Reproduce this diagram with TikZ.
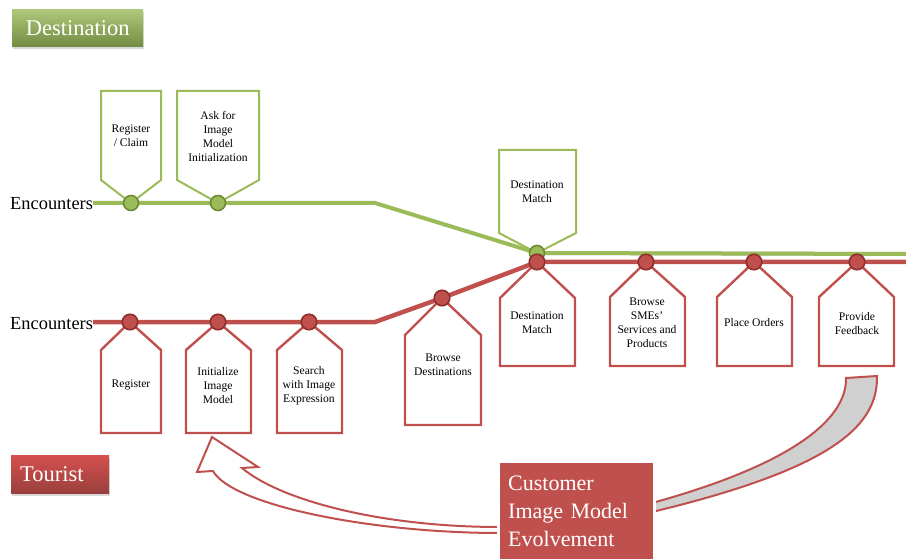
\documentclass[tikz,border=0pt]{standalone}
\usepackage{fontspec}
\setmainfont{Liberation Serif}
\usetikzlibrary{shadows}
\definecolor{gline}{HTML}{9BBB59}
\definecolor{gdark}{HTML}{6F8C35}
\definecolor{rline}{HTML}{C0504D}
\definecolor{rdark}{HTML}{8E302E}
\definecolor{bandgray}{HTML}{D0D0D0}
\pgfdeclarelayer{back}
\pgfdeclarelayer{mid}
\pgfsetlayers{back,mid,main}
\begin{document}
\begin{tikzpicture}[x=1pt,y=-1pt,
  gcall/.style={draw=gline, line width=2pt, fill=white, line join=miter},
  rcall/.style={draw=rline, line width=2.4pt, fill=white, line join=miter},
  tagtext/.style={font=\fontsize{11.6}{14}\selectfont, align=center, inner sep=0pt},
  gdot/.style={circle, fill=gline, draw=gdark, line width=1.6pt, minimum size=15pt, inner sep=0pt},
  rdot/.style={circle, fill=rline, draw=rdark, line width=1.6pt, minimum size=15.5pt, inner sep=0pt},
  lane/.style={line width=#1},
  laneshadow/.style={draw=black, opacity=.22, line width=4pt, shift={(0,2)}},
  encl/.style={anchor=base west, inner sep=0pt, font=\fontsize{18.4}{20}\selectfont},
  hdr/.style={anchor=north west, text=white, font=\fontsize{22.5}{26}\selectfont,
    drop shadow={shadow xshift=1pt, shadow yshift=-3pt, opacity=.3}},
  blockarrow/.style={draw=rline, line width=2pt, line join=miter}
]
\useasboundingbox (0,0) rectangle (906,559);

% headers
\node[hdr, top color=gline!80!white, bottom color=gline!75!black,
  minimum width=131pt, minimum height=37pt, inner sep=0pt] (dest) at (12,9) {Destination};
\node[hdr, top color=rline!75!red!90!white, bottom color=rline!80!black,
  minimum height=38pt, text width=80pt, inner xsep=9pt, inner ysep=0pt, align=left] (tour) at (11,455) {Tourist};

% encounter dots
\node[gdot] (g1) at (131,203) {};
\node[gdot] (g2) at (218,203) {};
\node[gdot] (g3) at (537,253) {};
\node[rdot] (r1) at (130,322) {};
\node[rdot] (r2) at (218,322) {};
\node[rdot] (r3) at (309,322) {};
\node[rdot] (r4) at (442,298) {};
\node[rdot] (r5) at (537,262) {};
\node[rdot] (r6) at (646,262) {};
\node[rdot] (r7) at (754,262) {};
\node[rdot] (r8) at (857,262) {};

\coordinate (gs) at (93,203);
\coordinate (gb) at (375,203);
\coordinate (ge) at (906,254);
\coordinate (rs) at (93,322);
\coordinate (rb) at (375,322);
\coordinate (re) at (906,262);

\node[encl] (enc1) at (10,210) {Encounters};
\node[encl] (enc2) at (10,329) {Encounters};

% timelines
\begin{pgfonlayer}{mid}
  \draw[laneshadow] (gs) -- (g1.center) -- (g2.center) -- (gb);
  \draw[laneshadow] (g3.center) -- (ge);
  \draw[laneshadow] (rs) -- (r1.center) -- (r2.center) -- (r3.center) -- (rb);
  \draw[laneshadow] (r5.center) -- (re);
  \draw[draw=gline, lane=4pt] (gs) -- (g1.center) -- (g2.center) -- (gb) -- (g3.center) -- (ge);
  \draw[draw=rline, lane=4.5pt] (rs) -- (r1.center) -- (r2.center) -- (r3.center) -- (rb)
    -- (r4.center) -- (r5.center) -- (r6.center) -- (r7.center) -- (r8.center) -- (re);
\end{pgfonlayer}

% tag outlines
\begin{pgfonlayer}{back}
  \draw[gcall] (101,91) -- (161,91) -- (161,180) -- (g1.center) -- (101,180) -- cycle;
  \draw[gcall] (177,91) -- (259,91) -- (259,180) -- (g2.center) -- (177,180) -- cycle;
  \draw[gcall] (499,150) -- (576,150) -- (576,233) -- (g3.center) -- (499,233) -- cycle;
  \draw[rcall] (101,433) -- (161,433) -- (161,350) -- (r1.center) -- (101,350) -- cycle;
  \draw[rcall] (186,433) -- (251,433) -- (251,350) -- (r2.center) -- (186,350) -- cycle;
  \draw[rcall] (277,433) -- (342,433) -- (342,350) -- (r3.center) -- (277,350) -- cycle;
  \draw[rcall] (405,425) -- (481,425) -- (481,335) -- (r4.center) -- (405,335) -- cycle;
  \draw[rcall] (500,366) -- (575,366) -- (575,298) -- (r5.center) -- (500,298) -- cycle;
  \draw[rcall] (610,366) -- (685,366) -- (685,297) -- (r6.center) -- (610,297) -- cycle;
  \draw[rcall] (717,366) -- (792,366) -- (792,297) -- (r7.center) -- (717,297) -- cycle;
  \draw[rcall] (819,366) -- (894,366) -- (894,297) -- (r8.center) -- (819,297) -- cycle;
\end{pgfonlayer}

% tag labels
\node[tagtext] (t1) at (131,136) {Register\\/ Claim};
\node[tagtext] (t2) at (218,136) {Ask for\\Image\\Model\\Initialization};
\node[tagtext] (t3) at (537,192) {Destination\\Match};
\node[tagtext] (t4) at (131,385) {Register};
\node[tagtext] (t5) at (218,386) {Initialize\\Image\\Model};
\node[tagtext] (t6) at (309,386) {Search\\with Image\\Expression};
\node[tagtext] (t7) at (443,365) {Browse\\Destinations};
\node[tagtext] (t8) at (537,323) {Destination\\Match};
\node[tagtext] (t9) at (647,323) {Browse\\SMEs’\\Services and\\Products};
\node[tagtext] (t10) at (754,323) {Place Orders};
\node[tagtext] (t11) at (857,324) {Provide\\Feedback};

% feedback loop arrows
\draw[blockarrow, fill=bandgray]
  (877,376) .. controls (878,425) and (835,468) .. (652,512)
  -- (652,503) .. controls (790,465) and (847,420) .. (846,378) -- cycle;
\draw[blockarrow, fill=white]
  (212,437) -- (258,467) -- (242,468)
  .. controls (280,500) and (380,527) .. (500,527)
  -- (500,533) .. controls (370,533) and (232,505) .. (213,471)
  -- (197,472) -- cycle;

% model evolution box
\fill[white, drop shadow={shadow xshift=0pt, shadow yshift=0pt, opacity=.15}] (497,460) rectangle (656,559);
\node[anchor=north west, fill=rline, text=white, minimum width=153pt, minimum height=96pt,
  text width=137pt, inner xsep=8pt, inner ysep=11pt, align=left,
  font=\fontsize{22}{28}\selectfont] (cim) at (500,463) {Customer\\Image Model\\Evolvement};
\end{tikzpicture}
\end{document}
